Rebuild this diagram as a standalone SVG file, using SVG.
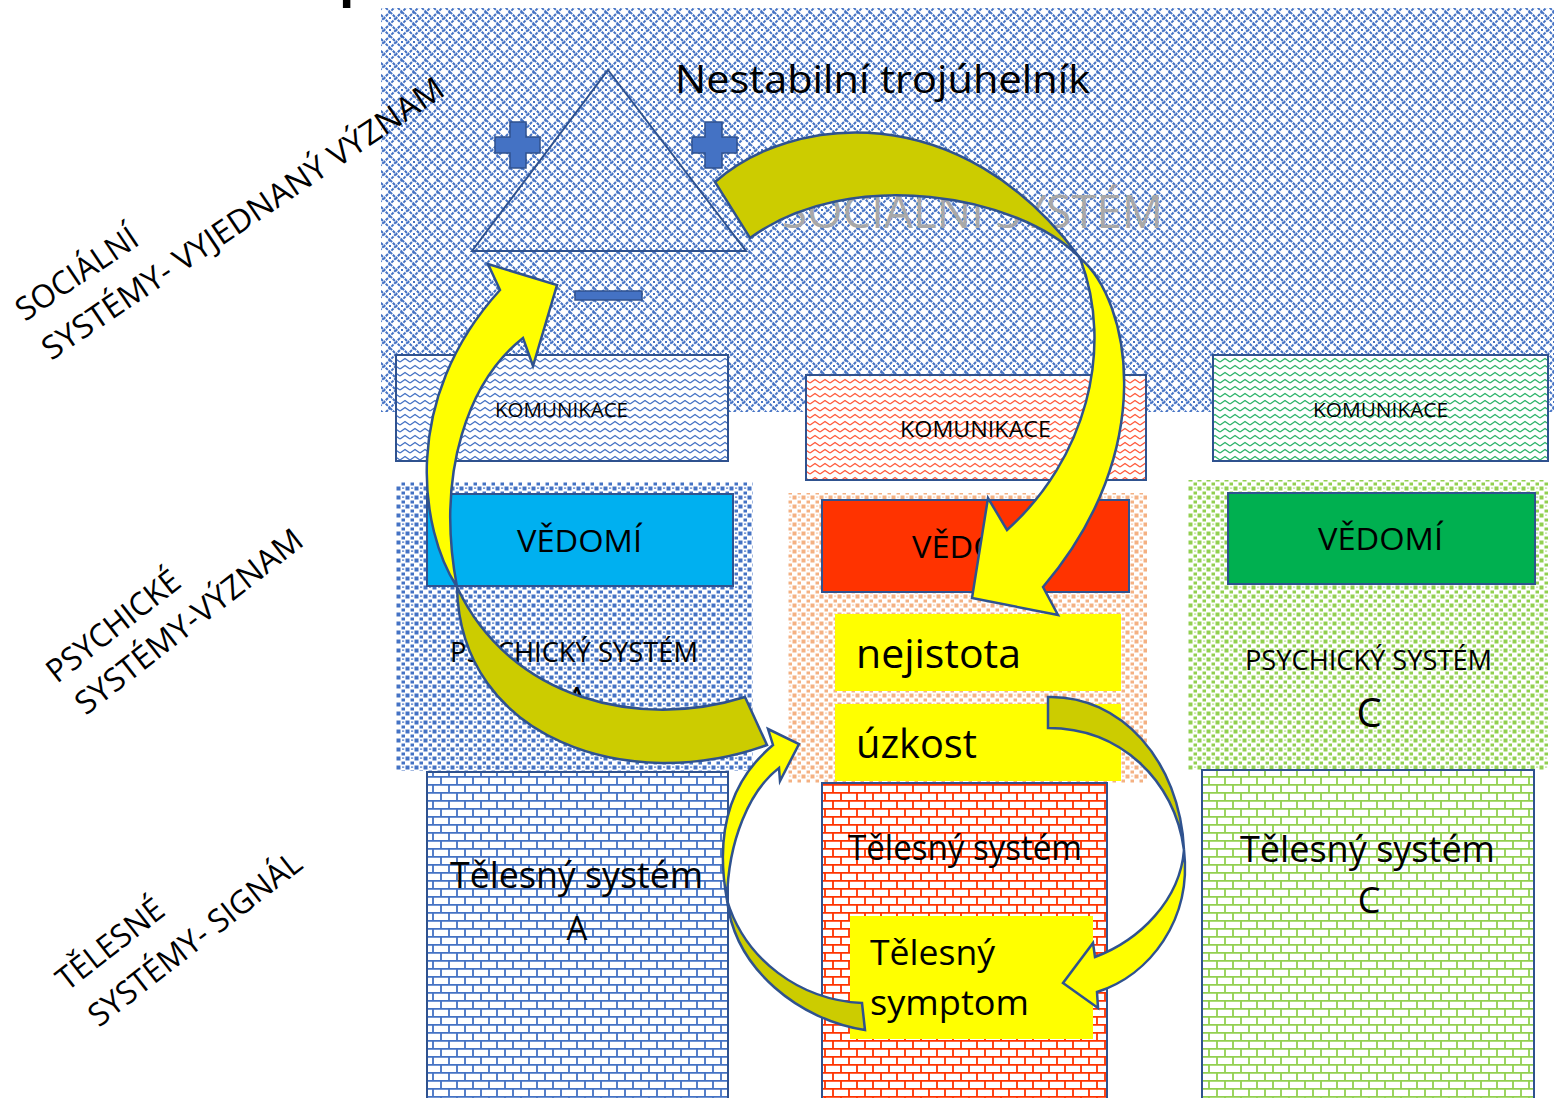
<svg xmlns="http://www.w3.org/2000/svg" width="1554" height="1098" viewBox="0 0 1554 1098">
<style>
text{font-family:"Open Sans","Liberation Sans",sans-serif;fill:#000}
.box{stroke:#2F528F;stroke-width:2}
.arr{stroke:#2F528F;stroke-width:2.5;stroke-linejoin:miter}
.y{fill:#FFFF00}
.o{fill:#CCCC00}
</style>
<defs>
<pattern id="pSoc" width="12" height="12" patternUnits="userSpaceOnUse"><rect width="12" height="12" fill="#fff"/><path d="M6 0L12 6L6 12L0 6Z" fill="none" stroke="#4472C4" stroke-width="2" stroke-dasharray="3 1"/><rect x="5" y="5" width="2" height="2" fill="#4472C4"/></pattern>
<pattern id="wA" width="10" height="7" patternUnits="userSpaceOnUse"><rect width="10" height="7" fill="#fff"/><path d="M0 5L5 1.5L10 5" fill="none" stroke="#4472C4" stroke-width="1.4"/></pattern>
<pattern id="wB" width="10" height="7" patternUnits="userSpaceOnUse"><rect width="10" height="7" fill="#fff"/><path d="M0 5L5 1.5L10 5" fill="none" stroke="#FF5A3C" stroke-width="1.4"/></pattern>
<pattern id="wC" width="10" height="7" patternUnits="userSpaceOnUse"><rect width="10" height="7" fill="#fff"/><path d="M0 5L5 1.5L10 5" fill="none" stroke="#2DB36A" stroke-width="1.4"/></pattern>
<pattern id="dA" width="9" height="9" patternUnits="userSpaceOnUse"><rect width="9" height="9" fill="#fff"/><rect x="0.5" y="0.5" width="4" height="4" fill="#4472C4"/><rect x="5.5" y="5.5" width="3.5" height="3" fill="#4472C4"/><rect x="6" y="1.5" width="2.2" height="1.2" fill="#4472C4"/></pattern>
<pattern id="dB" width="9" height="9" patternUnits="userSpaceOnUse"><rect width="9" height="9" fill="#fff"/><rect x="0.5" y="0.5" width="4" height="4" fill="#F4B183"/><rect x="5.5" y="5.5" width="3.5" height="3" fill="#F4B183"/><rect x="6" y="1.5" width="2.2" height="1.2" fill="#F8CBAD"/></pattern>
<pattern id="dC" width="9" height="9" patternUnits="userSpaceOnUse"><rect width="9" height="9" fill="#fff"/><rect x="0.5" y="0.5" width="4" height="4" fill="#92D050"/><rect x="5.5" y="5.5" width="3.5" height="3" fill="#92D050"/><rect x="6" y="1.5" width="2.2" height="1.2" fill="#B5E08A"/></pattern>
<pattern id="bA" width="16" height="16" patternUnits="userSpaceOnUse"><rect width="16" height="16" fill="#fff"/><path d="M0 0.9H16M0 8.9H16M1 0V8M9 8V16" stroke="#4472C4" stroke-width="1.8"/></pattern>
<pattern id="bB" width="16" height="16" patternUnits="userSpaceOnUse"><rect width="16" height="16" fill="#fff"/><path d="M0 0.9H16M0 8.9H16M1 0V8M9 8V16" stroke="#FF3300" stroke-width="1.8"/></pattern>
<pattern id="bC" width="16" height="16" patternUnits="userSpaceOnUse"><rect width="16" height="16" fill="#fff"/><path d="M0 0.9H16M0 8.9H16M1 0V8M9 8V16" stroke="#92D050" stroke-width="1.8"/></pattern>
</defs>
<rect width="1554" height="1098" fill="#fff"/>
<text x="339" y="-4" font-size="50" font-weight="bold">p</text>

<g id="social">
<rect x="381" y="8" width="1173" height="404" fill="url(#pSoc)"/>
<text x="782" y="228" font-size="46" style="fill:#A8A8A8" textLength="381" lengthAdjust="spacingAndGlyphs">SOCIÁLNÍ SYSTÉM</text>
<text x="675" y="93" font-size="39" textLength="415" lengthAdjust="spacingAndGlyphs">Nestabilní trojúhelník</text>
</g>

<g id="triangle">
<path d="M608 70L746 251H472Z" fill="none" stroke="#2F528F" stroke-width="2"/>
<path d="M510 122h16v15h14v16h-14v15h-16v-15h-15v-16h15Z" fill="#4472C4" stroke="#2F528F" stroke-width="1.5"/>
<path d="M705 122h17v15h15v16h-15v15h-17v-15h-13v-16h13Z" fill="#4472C4" stroke="#2F528F" stroke-width="1.5"/>
<rect x="575" y="291" width="67" height="9" fill="#4472C4" stroke="#2F528F" stroke-width="1.5"/>
</g>

<g id="levels" font-size="32">
<g transform="translate(25 322) rotate(-34)">
<text x="0" y="0" textLength="140" lengthAdjust="spacingAndGlyphs">SOCIÁLNÍ</text>
<text x="0" y="47" textLength="477" lengthAdjust="spacingAndGlyphs">SYSTÉMY- VYJEDNANÝ VÝZNAM</text>
</g>
<g transform="translate(57 684) rotate(-38)">
<text x="0" y="0" textLength="160" lengthAdjust="spacingAndGlyphs">PSYCHICKÉ</text>
<text x="3" y="43" textLength="279" lengthAdjust="spacingAndGlyphs">SYSTÉMY-VÝZNAM</text>
</g>
<g transform="translate(67 992) rotate(-38)">
<text x="0" y="0" textLength="127" lengthAdjust="spacingAndGlyphs">TĚLESNÉ</text>
<text x="3" y="48" textLength="261" lengthAdjust="spacingAndGlyphs">SYSTÉMY- SIGNÁL</text>
</g>
</g>

<g id="colA">
<rect class="box" x="396" y="355" width="332" height="106" fill="url(#wA)"/>
<text x="495" y="417" font-size="20" textLength="133" lengthAdjust="spacingAndGlyphs">KOMUNIKACE</text>
<rect x="396" y="482" width="357" height="289" fill="url(#dA)"/>
<rect class="box" x="427" y="494" width="306" height="92" fill="#00B0F0"/>
<text x="517" y="552" font-size="31" textLength="125" lengthAdjust="spacingAndGlyphs">VĚDOMÍ</text>
<text x="450" y="662" font-size="28" textLength="248" lengthAdjust="spacingAndGlyphs">PSYCHICKÝ SYSTÉM</text>
<text x="577" y="716" font-size="40" text-anchor="middle">A</text>
<rect class="box" x="427" y="772" width="301" height="330" fill="url(#bA)"/>
<text x="450" y="888" font-size="36" textLength="253" lengthAdjust="spacingAndGlyphs">Tělesný systém</text>
<text x="577" y="940" font-size="33" text-anchor="middle">A</text>
</g>

<g id="colB">
<rect class="box" x="806" y="375" width="340" height="105" fill="url(#wB)"/>
<text x="900" y="437" font-size="22" textLength="151" lengthAdjust="spacingAndGlyphs">KOMUNIKACE</text>
<rect x="788" y="493" width="359" height="290" fill="url(#dB)"/>
<rect class="box" x="822" y="500" width="307" height="92" fill="#FF3300"/>
<text x="912" y="558" font-size="31" textLength="125" lengthAdjust="spacingAndGlyphs">VĚDOMÍ</text>
<rect class="box" x="822" y="783" width="285" height="320" fill="url(#bB)"/>
<text x="848" y="860" font-size="34" textLength="234" lengthAdjust="spacingAndGlyphs">Tělesný systém</text>
</g>

<g id="colC">
<rect class="box" x="1213" y="355" width="335" height="106" fill="url(#wC)"/>
<text x="1313" y="417" font-size="20" textLength="135" lengthAdjust="spacingAndGlyphs">KOMUNIKACE</text>
<rect x="1188" y="480" width="360" height="290" fill="url(#dC)"/>
<rect class="box" x="1228" y="493" width="307" height="91" fill="#00B050"/>
<text x="1318" y="550" font-size="31" textLength="125" lengthAdjust="spacingAndGlyphs">VĚDOMÍ</text>
<text x="1245" y="670" font-size="28" textLength="247" lengthAdjust="spacingAndGlyphs">PSYCHICKÝ SYSTÉM</text>
<text x="1369" y="727" font-size="40" text-anchor="middle">C</text>
<rect class="box" x="1202" y="770" width="332" height="333" fill="url(#bC)"/>
<text x="1240" y="862" font-size="36" textLength="255" lengthAdjust="spacingAndGlyphs">Tělesný systém</text>
<text x="1369" y="913" font-size="36" text-anchor="middle">C</text>
</g>

<g id="nejistota">
<rect class="y" x="835" y="614" width="286" height="77"/>
<text x="856" y="668" font-size="41" textLength="165" lengthAdjust="spacingAndGlyphs">nejistota</text>
</g>
<g id="uzkost">
<rect class="y" x="835" y="704" width="286" height="77"/>
<text x="856" y="758" font-size="41" textLength="121" lengthAdjust="spacingAndGlyphs">úzkost</text>
</g>
<g id="symptom">
<rect class="y" x="850" y="916" width="243" height="123"/>
<text x="870" y="965" font-size="35" textLength="125" lengthAdjust="spacingAndGlyphs">Tělesný</text>
<text x="870" y="1015" font-size="35" textLength="159" lengthAdjust="spacingAndGlyphs">symptom</text>
</g>

<g id="connectors">
<path class="arr o" d="M715 182C790 115 960 95 1080 258C1020 195 850 165 750 238Z"/>
<path class="arr y" d="M1080 258C1130 300 1160 450 1043 587L1058 615L972 598L988 498L1007 530C1085 460 1115 350 1080 258Z"/>
<path class="arr o" d="M745 697C640 730 510 700 457 587C460 740 630 795 767 745Z"/>
<path class="arr y" d="M457 587C420 530 400 400 500 290L488 264L557 285L533 366L523 338C470 380 435 470 457 587Z"/>
<path class="arr y" d="M727 900C716 840 725 785 773 745L768 729L799 744L780 781L779 768C750 790 728 840 727 900Z"/>
<path class="arr o" d="M727 900C735 970 800 1020 865 1030L862 1003C800 1000 745 960 727 900Z"/>
<path class="arr o" d="M1048 697C1120 695 1180 760 1184 850C1175 780 1120 728 1048 728Z"/>
<path class="arr y" d="M1184 850C1192 920 1150 975 1097 992L1098 1008L1063 983L1093 943L1095 957C1140 940 1180 900 1184 850Z"/>
</g>
</svg>
